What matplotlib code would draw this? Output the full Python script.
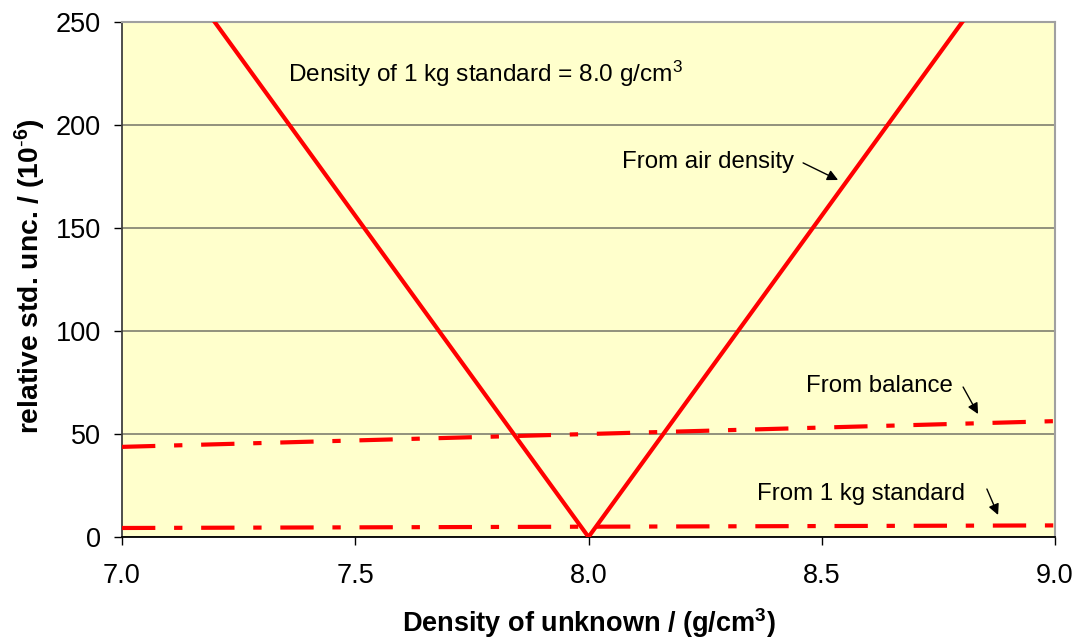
import matplotlib
matplotlib.use("Agg")
import matplotlib.pyplot as plt
import numpy as np

plt.rcParams['font.family'] = ['Liberation Sans', 'DejaVu Sans']
plt.rcParams['mathtext.fontset'] = 'custom'
plt.rcParams['mathtext.rm'] = 'Liberation Sans'
plt.rcParams['mathtext.it'] = 'Liberation Sans:italic'
plt.rcParams['mathtext.bf'] = 'Liberation Sans:bold'

# Data
density = [7.0, 8.0, 9.0]
air_density_unc = [312, 0, 312]
balance_density = [7.0, 9.0]
balance_unc = [43.75, 56.25]
standard_density = [7.0, 9.0]
standard_unc = [4.375, 5.625]

x_ticks = [7.0, 7.5, 8.0, 8.5, 9.0]
y_ticks = [0, 50, 100, 150, 200, 250]

fig = plt.figure(figsize=(10.77, 6.41), dpi=100)
ax = fig.add_axes([122/1077, 1-537/641, 933/1077, 515/641])
ax.set_facecolor('#FFFFCC')

red = '#FF0000'
ax.plot(density, air_density_unc, color=red, lw=3, zorder=3, solid_capstyle='butt')
ax.plot(balance_density, balance_unc, color=red, lw=3, dashes=(8, 4.5, 2, 4.5), zorder=3,
        dash_capstyle='butt')
ax.plot(standard_density, standard_unc, color=red, lw=3, dashes=(8, 4.5, 2, 4.5), zorder=3,
        dash_capstyle='butt')

ax.set_xlim(7.0, 9.0)
ax.set_ylim(0, 250)
ax.set_xticks(x_ticks)
ax.set_xticklabels([f"{v:.1f}" for v in x_ticks])
ax.set_yticks(y_ticks)
ax.set_yticklabels([str(v) for v in y_ticks])
ax.yaxis.grid(True, color='#7f7f6f', lw=1.2, zorder=1)
ax.set_axisbelow(True)
ax.tick_params(axis='both', labelsize=19.5, direction='out', length=6, width=1, colors='black', pad=9)
ax.tick_params(axis='x', pad=13)

ax.spines['left'].set_color('#404040')
ax.spines['left'].set_linewidth(1.3)
ax.spines['bottom'].set_color('black')
ax.spines['bottom'].set_linewidth(1.3)
ax.spines['top'].set_color('#a0a0a0')
ax.spines['top'].set_linewidth(1.5)
ax.spines['right'].set_color('#a0a0a0')
ax.spines['right'].set_linewidth(1.5)

ax.set_xlabel(r"Density of unknown / (g/cm$^{\mathbf{3}}$)", fontsize=19.5, fontweight='bold')
ax.xaxis.set_label_coords(0.5, -0.168)
ax.xaxis.label.set_va('center')
ax.set_ylabel(r"relative std. unc. / (10$^{\text{-}\mathbf{6}}$)", fontsize=20.3, fontweight='bold')
ax.yaxis.set_label_coords(-0.0986, 0.507)
ax.yaxis.label.set_va('center')

ax.text(7.356, 220.9, r"Density of 1 kg standard = 8.0 g/cm$^{3}$", fontsize=17.6, va='baseline', ha='left')

arrow = dict(arrowstyle='-|>', color='black', lw=1, mutation_scale=16, shrinkA=0, shrinkB=0)
ax.text(8.072, 179.1, "From air density", fontsize=17.3, va='baseline', ha='left')
ax.annotate("", xy=(8.535, 173.3), xytext=(8.46, 181.6), arrowprops=dict(arrow))
ax.text(8.466, 70.4, "From balance", fontsize=17.3, va='baseline', ha='left')
ax.annotate("", xy=(8.835, 59.7), xytext=(8.803, 72.8), arrowprops=dict(arrow))
ax.text(8.361, 18.0, "From 1 kg standard", fontsize=17.3, va='baseline', ha='left')
ax.annotate("", xy=(8.878, 10.7), xytext=(8.854, 23.3), arrowprops=dict(arrow))

fig.savefig("out.png", dpi=100)
